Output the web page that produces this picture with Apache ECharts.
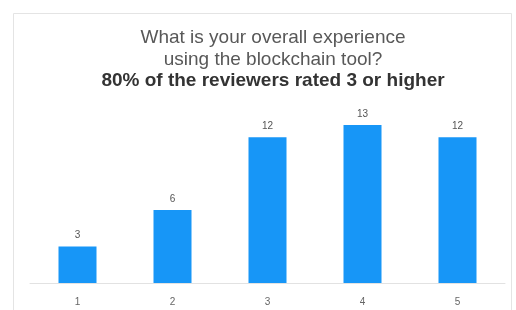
<!DOCTYPE html>
<html>
<head>
<meta charset="utf-8">
<script src="https://cdn.jsdelivr.net/npm/echarts@6/dist/echarts.min.js"></script>
<style>
  html, body { margin: 0; padding: 0; background: #fff; }
  #chart { width: 516px; height: 310px; }
</style>
</head>
<body>
<div id="chart"></div>
<script>
  // ratings and how many reviewers gave each
  const ratings = ['1', '2', '3', '4', '5'];
  const counts = [3, 6, 12, 13, 12];

  const chart = echarts.init(document.getElementById('chart'));
  chart.setOption({
    backgroundColor: '#fff',
    animation: false,
    graphic: [{
      type: 'rect',
      shape: { x: 13.5, y: 13.5, width: 498, height: 320 },
      style: { fill: 'none', stroke: '#e4e4e4', lineWidth: 1 },
      silent: true
    }],
    title: {
      left: 268,
      textAlign: 'center',
      top: 22,
      text: 'What is your overall experience\nusing the blockchain tool?',
      textStyle: {
        fontFamily: 'Liberation Sans',
        fontSize: 19,
        fontWeight: 'normal',
        color: '#585858',
        lineHeight: 22
      },
      subtext: '80% of the reviewers rated 3 or higher',
      subtextStyle: {
        fontFamily: 'Liberation Sans',
        fontSize: 19,
        fontWeight: 'bold',
        color: '#333',
        lineHeight: 22
      },
      itemGap: -1
    },
    grid: { left: 30, right: 11, top: 125, bottom: 27 },
    xAxis: {
      type: 'category',
      data: ratings,
      axisLine: { lineStyle: { color: '#e2e2e2' } },
      axisTick: { show: false },
      axisLabel: { color: '#666', fontSize: 10, margin: 14, fontFamily: 'Liberation Sans' }
    },
    yAxis: {
      type: 'value',
      min: 0,
      max: 13,
      show: false,
      splitLine: { show: false }
    },
    series: [{
      type: 'bar',
      data: counts,
      barWidth: 38,
      itemStyle: { color: '#1796f7' },
      label: {
        show: true,
        position: 'top',
        distance: 6,
        color: '#555',
        fontSize: 10,
        fontFamily: 'Liberation Sans'
      }
    }]
  });
</script>
</body>
</html>
